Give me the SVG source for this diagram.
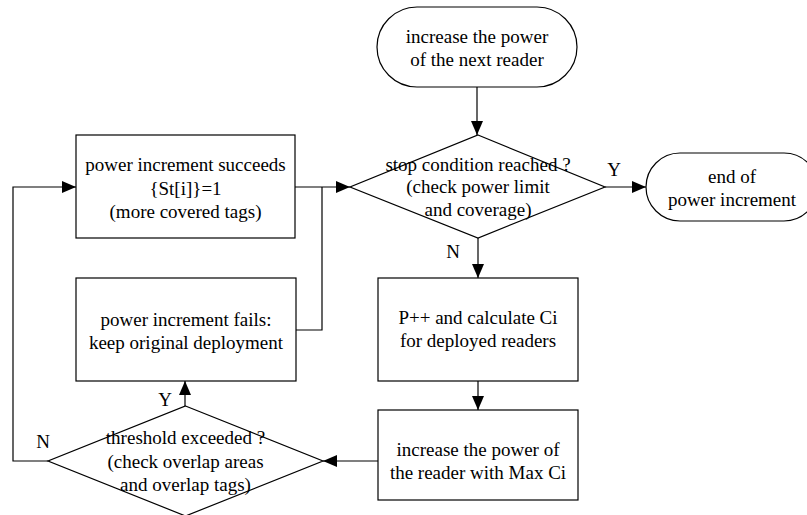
<svg xmlns="http://www.w3.org/2000/svg" width="807" height="515" viewBox="0 0 807 515">
  <style>
    .shape { fill: #ffffff; stroke: #000000; stroke-width: 1.2; }
    .edge { fill: none; stroke: #000000; stroke-width: 1.2; }
    text { font-family: "Liberation Serif", "Times New Roman", serif; font-size: 19px; fill: #000000; text-anchor: middle; }
  </style>
  <defs>
    <marker id="arrow" viewBox="0 0 14 12" refX="14" refY="6" markerWidth="14" markerHeight="12" markerUnits="userSpaceOnUse" orient="auto">
      <path d="M0,0 L14,6 L0,12 Z" fill="#000000"/>
    </marker>
  </defs>
  <rect width="807" height="515" fill="#ffffff"/>

  <g id="connectors">
    <line class="edge" x1="477" y1="87" x2="477" y2="135" marker-end="url(#arrow)"/>
    <line class="edge" x1="605" y1="187" x2="646" y2="187" marker-end="url(#arrow)"/>
    <line class="edge" x1="478" y1="238" x2="478" y2="278" marker-end="url(#arrow)"/>
    <line class="edge" x1="478" y1="381" x2="478" y2="410" marker-end="url(#arrow)"/>
    <line class="edge" x1="378" y1="461" x2="323" y2="461" marker-end="url(#arrow)"/>
    <line class="edge" x1="185" y1="406" x2="185" y2="381" marker-end="url(#arrow)"/>
    <polyline class="edge" points="48,461 13,461 13,187 76,187" marker-end="url(#arrow)"/>
    <line class="edge" x1="295" y1="187" x2="350" y2="187" marker-end="url(#arrow)"/>
    <polyline class="edge" points="296,330 322,330 322,187"/>
    <text x="614" y="176">Y</text>
    <text x="453" y="258">N</text>
    <text x="165" y="406">Y</text>
    <text x="43" y="448">N</text>
  </g>

  <g id="start">
    <rect class="shape" x="377" y="7" width="200" height="80" rx="40" ry="40"/>
    <text x="477" y="43">increase the power</text>
    <text x="477" y="66">of the next reader</text>
  </g>

  <g id="stop-check">
    <polygon class="shape" points="478,135 605,187 478,238 350,187"/>
    <text x="478" y="171">stop condition reached ?</text>
    <text x="478" y="193">(check power limit</text>
    <text x="478" y="216">and coverage)</text>
  </g>

  <g id="end">
    <rect class="shape" x="646" y="153" width="172" height="68" rx="34" ry="34"/>
    <text x="732" y="183">end of</text>
    <text x="732" y="206">power increment</text>
  </g>

  <g id="succeeds">
    <rect class="shape" x="76" y="135" width="219" height="103"/>
    <text x="185.5" y="171">power increment succeeds</text>
    <text x="185.5" y="195">{St[i]}=1</text>
    <text x="185.5" y="218">(more covered tags)</text>
  </g>

  <g id="fails">
    <rect class="shape" x="76" y="278" width="220" height="103"/>
    <text x="186" y="326">power increment fails:</text>
    <text x="186" y="349">keep original deployment</text>
  </g>

  <g id="calculate">
    <rect class="shape" x="378" y="278" width="200" height="103"/>
    <text x="478" y="324">P++ and calculate Ci</text>
    <text x="478" y="347">for deployed readers</text>
  </g>

  <g id="increase-max">
    <rect class="shape" x="378" y="410" width="200" height="90"/>
    <text x="478" y="456">increase the power of</text>
    <text x="478" y="479">the reader with Max Ci</text>
  </g>

  <g id="threshold-check">
    <polygon class="shape" points="185.5,406 323,461 185.5,516 48,461"/>
    <text x="185.5" y="444">threshold exceeded ?</text>
    <text x="185.5" y="468">(check overlap areas</text>
    <text x="185.5" y="491">and overlap tags)</text>
  </g>
</svg>
